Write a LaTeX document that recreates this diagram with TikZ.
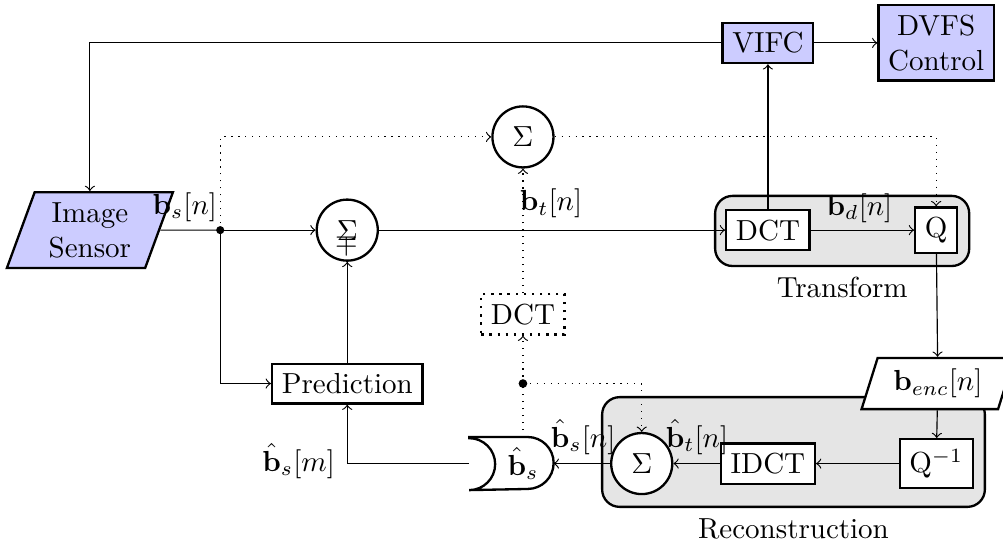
\documentclass[tikz,border=0pt]{standalone}
\usetikzlibrary{positioning,shapes.geometric}

\tikzset{
  block/.style={draw, thick, rectangle, fill=white},
  colblock/.style={block, fill=blue!20},
  sumnode/.style={draw, thick, circle, fill=white, minimum size=0.74cm, inner sep=0pt},
  iobox/.style={draw, thick, trapezium, trapezium left angle=70, trapezium right angle=110, trapezium stretches=true},
  groupbox/.style={draw, thick, rounded corners=6pt, fill=gray!20},
}

\begin{document}
\begin{tikzpicture}
        \useasboundingbox (0,0) rectangle (12.16,-6.59);
        % Group backgrounds
        \node[groupbox, minimum width=3.08cm, minimum height=0.85cm] (tbox) at (10.21, -2.80) {};
        \node[below=0pt of tbox] {Transform};
        \node[groupbox, minimum width=4.64cm, minimum height=1.33cm] (rbox) at (9.62, -5.48) {};
        \node[below=0pt of rbox] {Reconstruction};
        % Blocks
        \node[iobox, fill=blue!20, align=center, minimum width=2.02cm, minimum height=0.92cm, inner sep=1pt] (sensor) at (1.09, -2.79) {Image\\Sensor};
        \node[colblock] (vifc) at (9.31, -0.52) {VIFC};
        \node[colblock, align=center] (dvfs) at (11.35, -0.52) {DVFS\\Control};
        \node[sumnode] (sumtop) at (6.34, -1.66) {$\Sigma$};
        \node[sumnode] (sum) at (4.21, -2.79) {$\Sigma$};
        \node (sumsign) at ([yshift=-0.17cm]sum.center) {$\mp$};
        \coordinate (junc) at (2.67, -2.79);
        \node[block] (dct) at (9.31, -2.79) {DCT};
        \node[block] (q) at (11.35, -2.79) {Q};
        \node[block, dotted] (dctd) at (6.34, -3.81) {DCT};
        \node[block] (pred) at (4.21, -4.65) {Prediction};
        \coordinate (dot) at (6.34, -4.65);
        \node[iobox, fill=white, minimum width=1.85cm, minimum height=0.62cm, inner sep=1pt] (benc) at (11.37, -4.65) {$\mathbf{b}_{enc}[n]$};
        \node[minimum width=1.01cm, minimum height=0.63cm, inner sep=1pt] (bs) at (6.20, -5.62) {\hspace{0.28cm}$\hat{\mathbf{b}}_s$};
        \draw[thick] (bs.north west) -- ([xshift=-0.315cm]bs.north east) arc[start angle=90, end angle=-90, radius=0.315cm] -- (bs.south west) arc[start angle=-90, end angle=90, radius=0.315cm] -- cycle;
        \node[sumnode] (sum2) at (7.78, -5.62) {$\Sigma$};
        \node[block] (idct) at (9.31, -5.62) {IDCT};
        \node[block] (qinv) at (11.35, -5.62) {Q$^{-1}$};
        % Signal labels
        \node (bsn) at (2.24, -2.51) {$\mathbf{b}_s[n]$};
        \node (btn) at (6.68, -2.47) {$\mathbf{b}_t[n]$};
        \node (bdn) at (10.42, -2.52) {$\mathbf{b}_d[n]$};
        \node (hbsn) at (7.07, -5.30) {$\hat{\mathbf{b}}_s[n]$};
        \node (hbtn) at (8.45, -5.30) {$\hat{\mathbf{b}}_t[n]$};
        \node (hbsm) at (3.62, -5.59) {$\hat{\mathbf{b}}_s[m]$};
        % Solid connections
        \draw[->] (vifc.west) -| (sensor.north);
        \draw[->] (vifc) -- (dvfs);
        \draw[->] (dct) -- (vifc);
        \draw (sensor.east) -- (junc);
        \fill (junc) circle (1.4pt);
        \draw[->] (junc) -- (sum);
        \draw[->] (junc) |- (pred.west);
        \draw[->] (pred) -- (sum);
        \foreach \a/\b in {sum/dct, dct/q, q/benc, benc/qinv, qinv/idct, idct/sum2, sum2/bs} {
            \draw[->] (\a) -- (\b);
        }
        \draw[->] (bs.west) -| (pred.south);
        % Dotted connections
        \draw[dotted, ->] (junc) |- (sumtop.west);
        \draw[dotted, ->] (sumtop.east) -| (q.north);
        \draw[dotted] (bs.north -| dot) -- (dot);
        \fill (dot) circle (1.5pt);
        \draw[dotted, ->] (dot) -- (dctd.south);
        \draw[dotted, ->] (dctd) -- (sumtop);
        \draw[dotted, ->] (dot) -| (sum2.north);
    \end{tikzpicture}
\end{document}
